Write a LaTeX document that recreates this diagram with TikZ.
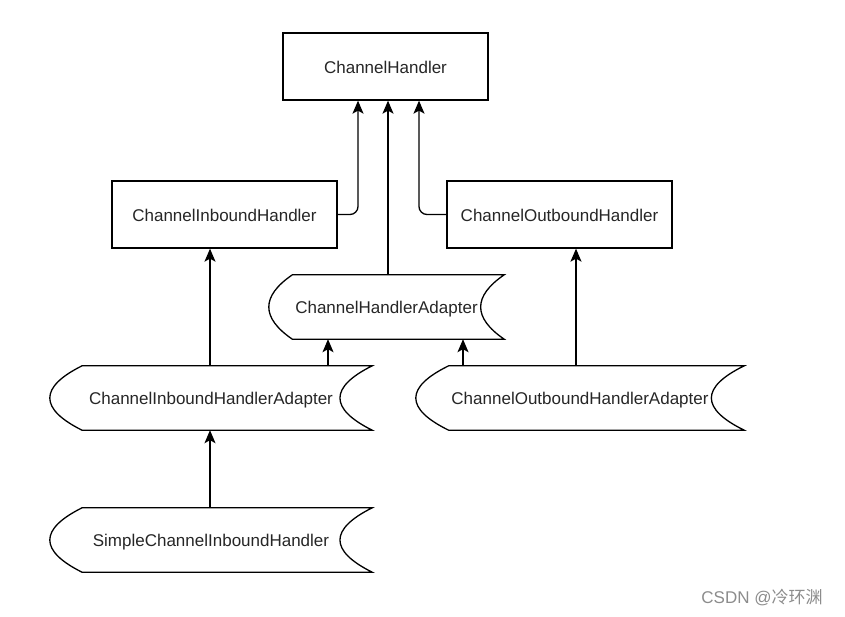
\documentclass[tikz,border=0pt]{standalone}
\usepackage{fontspec}
\setmainfont{Liberation Sans}
\newfontfamily\cjkfont{Noto Sans CJK SC}
\usetikzlibrary{arrows.meta,calc}
\tikzset{
  box/.style={draw, line width=1.3pt, rectangle, minimum height=67pt, inner sep=0pt, font=\fontsize{17}{20}\selectfont, text=black!85, text height=14pt, text depth=1pt},
  storebox/.style={rectangle, minimum height=64pt, inner sep=0pt, font=\fontsize{17}{20}\selectfont, text=black!85, text height=14pt, text depth=1pt},
  outline/.style={line width=1.3pt},
  arr/.style={line width=1.3pt, -{Stealth[length=13pt,width=11pt,inset=3pt]}},
}
\newcommand\storeoutline[1]{%
  \draw[outline] let \p1=(#1.north west), \p2=(#1.south east), \n1={0.1*(\x2-\x1)}, \n2={(\y2-\y1)/3} in
    (\x1+\n1,\y1) -- (\x2,\y1)
    .. controls (\x2-4*\n1/3,\y1+\n2) and (\x2-4*\n1/3,\y2-\n2) .. (\x2,\y2)
    -- (\x1+\n1,\y2)
    .. controls (\x1-\n1/3,\y2-\n2) and (\x1-\n1/3,\y1+\n2) .. cycle;}
\begin{document}
\begin{tikzpicture}[x=1pt,y=-1pt]
\useasboundingbox (0,0) rectangle (845,616);
\node[box, minimum width=205pt] (ch) at (385.5,66.5) {ChannelHandler};
\node[box, minimum width=225pt] (cih) at (224.5,214.5) {ChannelInboundHandler};
\node[box, minimum width=225pt] (coh) at (559.5,214.5) {ChannelOutboundHandler};
\node[storebox, minimum width=235pt] (cha) at (386.5,307) {ChannelHandlerAdapter};
\node[storebox, minimum width=322pt] (ciha) at (211,398) {ChannelInboundHandlerAdapter};
\node[storebox, minimum width=328pt] (coha) at (580,398) {ChannelOutboundHandlerAdapter};
\node[storebox, minimum width=322pt] (scih) at (211,540) {SimpleChannelInboundHandler};
\storeoutline{cha}
\storeoutline{ciha}
\storeoutline{coha}
\storeoutline{scih}
\draw[arr, rounded corners=8pt] (cih.east) -| ([xshift=-27.5pt]ch.south);
\draw[arr, rounded corners=8pt] (coh.west) -| ([xshift=33.5pt]ch.south);
\draw[arr] ([xshift=1.5pt]cha.north) -- ([xshift=2.5pt]ch.south);
\draw[arr] ([xshift=-1pt]ciha.north) -- ([xshift=-14.5pt]cih.south);
\draw[arr] ([xshift=117pt]ciha.north) -- ([xshift=-58.5pt]cha.south);
\draw[arr] ([xshift=-117pt]coha.north) -- ([xshift=76.5pt]cha.south);
\draw[arr] ([xshift=-4pt]coha.north) -- ([xshift=16.5pt]coh.south);
\draw[arr] ([xshift=-1pt]scih.north) -- ([xshift=-1pt]ciha.south);
\node[text=black!45, font=\fontsize{17}{20}\selectfont, inner sep=0pt] (wm) at (762,598) {CSDN @{\cjkfont 冷环渊}};
\end{tikzpicture}
\end{document}
